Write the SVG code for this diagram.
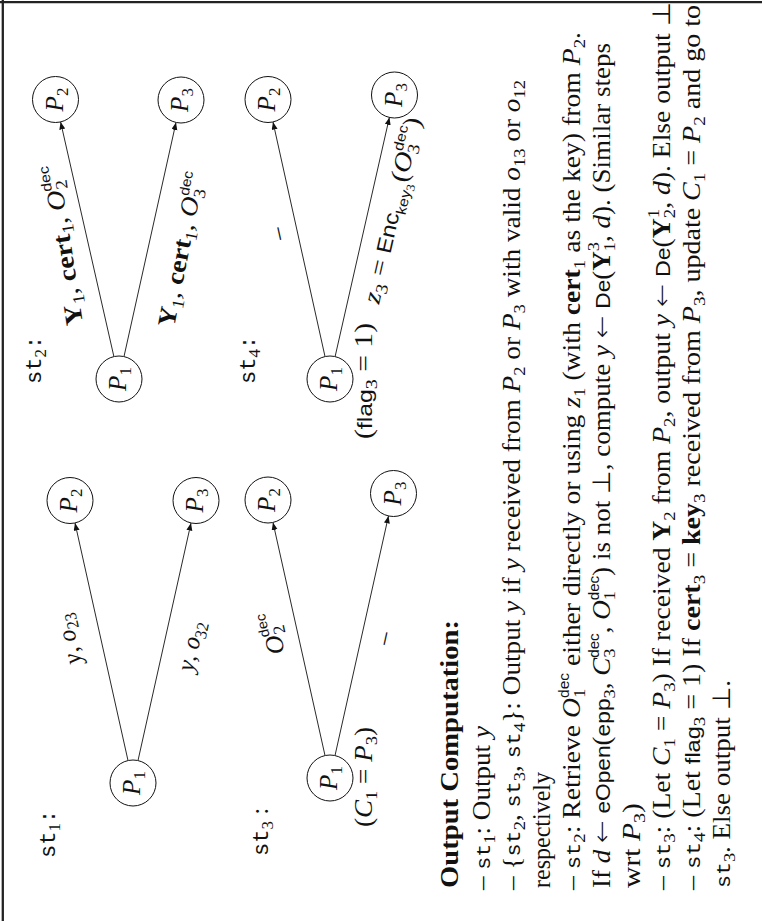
<svg xmlns="http://www.w3.org/2000/svg" width="762" height="921" viewBox="0 0 762 921">
<style>
text{font-family:"Liberation Serif",serif;font-size:25px;fill:#111}
.i{font-style:italic}
.b{font-weight:bold}
.tt{font-family:"Liberation Mono",monospace;font-size:20px}
.tl{font-family:"Liberation Mono",monospace;font-size:22px}
.sf{font-family:"Liberation Sans",sans-serif;font-size:21px}
.ar{font-family:"DejaVu Sans",sans-serif;font-size:25px;font-weight:200}
.sub{font-size:17px}
.sup{font-family:"Liberation Sans",sans-serif;font-size:14px}
.ss{font-size:12px}
.m{text-anchor:middle}
circle{fill:#fff;stroke:#111;stroke-width:1}
.edge{stroke:#111;stroke-width:0.9;fill:none;marker-end:url(#ah)}
.frame{stroke:#222;stroke-width:2.3}
</style>
<defs>
<marker id="ah" markerUnits="userSpaceOnUse" markerWidth="9" markerHeight="7" refX="7.5" refY="3" orient="auto"><path d="M0,0 L7.5,3 L0,6 Z" fill="#111"/></marker>
</defs>
<line class="frame" x1="2.8" y1="0" x2="2.8" y2="921"/>
<line class="frame" x1="0" y1="2.2" x2="762" y2="2.2"/>
<g transform="translate(0,921) rotate(-90)">
<g id="connectors">
<line class="edge" x1="160.5" y1="128" x2="398" y2="75"/>
<line class="edge" x1="160.5" y1="138" x2="398" y2="191"/>
<line class="edge" x1="165.5" y1="325" x2="398.5" y2="273"/>
<line class="edge" x1="165.4" y1="335" x2="405.1" y2="388.5"/>
<line class="edge" x1="564.4" y1="113.9" x2="799.1" y2="60.6"/>
<line class="edge" x1="564.5" y1="124" x2="798.5" y2="176"/>
<line class="edge" x1="564.5" y1="325" x2="799" y2="273"/>
<line class="edge" x1="564.4" y1="335.1" x2="803.6" y2="389.4"/>
</g>
<g id="edge-labels">
<text class="m" transform="translate(283.5,76) rotate(-12.6)" textLength="51" lengthAdjust="spacingAndGlyphs"><tspan class="i">y</tspan>, <tspan class="i">o</tspan><tspan class="sub" dy="5">23</tspan></text>
<text class="m" transform="translate(273.5,198.5) rotate(12.6)" textLength="51" lengthAdjust="spacingAndGlyphs"><tspan class="i">y</tspan>, <tspan class="i">o</tspan><tspan class="sub" dy="5">32</tspan></text>
<text class="m" transform="translate(289.5,280) rotate(-12.6)" textLength="43" lengthAdjust="spacingAndGlyphs"><tspan class="i">O</tspan><tspan class="sub" dy="5">2</tspan><tspan class="sup" dx="-8.5" dy="-16">dec</tspan></text>
<text class="m" transform="translate(281,391) rotate(12.6)">–</text>
<text class="m" transform="translate(677,71) rotate(-8.5)" textLength="162" lengthAdjust="spacingAndGlyphs"><tspan class="b">Y</tspan><tspan class="sub" dy="5">1</tspan><tspan dy="-5">, </tspan><tspan class="b">cert</tspan><tspan class="sub" dy="5">1</tspan><tspan dy="-5">, </tspan><tspan class="i">O</tspan><tspan class="sub" dy="5">2</tspan><tspan class="sup" dx="-8.5" dy="-16">dec</tspan></text>
<text class="m" transform="translate(670,189) rotate(11)" textLength="157" lengthAdjust="spacingAndGlyphs"><tspan class="b">Y</tspan><tspan class="sub" dy="5">1</tspan><tspan dy="-5">, </tspan><tspan class="b">cert</tspan><tspan class="sub" dy="5">1</tspan><tspan dy="-5">, </tspan><tspan class="i">O</tspan><tspan class="sub" dy="5">3</tspan><tspan class="sup" dx="-8.5" dy="-16">dec</tspan></text>
<text class="m" transform="translate(688.5,285) rotate(-12.5)">–</text>
<text class="m" transform="translate(709,400) rotate(12.8)" textLength="190" lengthAdjust="spacingAndGlyphs"><tspan class="i">z</tspan><tspan class="sub" dy="5">3</tspan><tspan dy="-5"> = </tspan><tspan class="sf">Enc</tspan><tspan class="sup" dy="6">key</tspan><tspan class="ss" dy="3">3</tspan><tspan dy="-9">(</tspan><tspan class="i">O</tspan><tspan class="sub" dy="5">3</tspan><tspan class="sup" dx="-8.5" dy="-16">dec</tspan><tspan dy="11">)</tspan></text>
</g>
<g id="st1-label"><text x="63" y="55"><tspan class="tl">st</tspan><tspan class="sub" dy="5">1</tspan><tspan class="tl" dy="-5">:</tspan></text></g>
<g id="st1-P1"><circle cx="138" cy="133" r="23"/><text class="m" x="138" y="140"><tspan class="i">P</tspan><tspan class="sub" dy="5">1</tspan></text></g>
<g id="st1-P2"><circle cx="420.5" cy="70" r="23"/><text class="m" x="420.5" y="77"><tspan class="i">P</tspan><tspan class="sub" dy="5">2</tspan></text></g>
<g id="st1-P3"><circle cx="420.5" cy="196" r="23"/><text class="m" x="420.5" y="203"><tspan class="i">P</tspan><tspan class="sub" dy="5">3</tspan></text></g>
<g id="st3-label"><text x="65" y="268"><tspan class="tl">st</tspan><tspan class="sub" dy="5">3</tspan><tspan dy="-5"> :</tspan></text></g>
<g id="st3-P1"><circle cx="143" cy="330" r="23"/><text class="m" x="143" y="337"><tspan class="i">P</tspan><tspan class="sub" dy="5">1</tspan></text><text class="m" x="144" y="372" textLength="100" lengthAdjust="spacingAndGlyphs">(<tspan class="i">C</tspan><tspan class="sub" dy="5">1</tspan><tspan dy="-5"> = </tspan><tspan class="i">P</tspan><tspan class="sub" dy="5">3</tspan><tspan dy="-5">)</tspan></text></g>
<g id="st3-P2"><circle cx="421" cy="268" r="23"/><text class="m" x="421" y="275"><tspan class="i">P</tspan><tspan class="sub" dy="5">2</tspan></text></g>
<g id="st3-P3"><circle cx="427.5" cy="393.5" r="23"/><text class="m" x="427.5" y="400.5"><tspan class="i">P</tspan><tspan class="sub" dy="5">3</tspan></text></g>
<g id="st2-label"><text x="537" y="41"><tspan class="tl">st</tspan><tspan class="sub" dy="5">2</tspan><tspan class="tl" dy="-5">:</tspan></text></g>
<g id="st2-P1"><circle cx="542" cy="119" r="23"/><text class="m" x="542" y="126"><tspan class="i">P</tspan><tspan class="sub" dy="5">1</tspan></text></g>
<g id="st2-P2"><circle cx="821.5" cy="55.5" r="23"/><text class="m" x="821.5" y="62.5"><tspan class="i">P</tspan><tspan class="sub" dy="5">2</tspan></text></g>
<g id="st2-P3"><circle cx="821" cy="181" r="23"/><text class="m" x="821" y="188"><tspan class="i">P</tspan><tspan class="sub" dy="5">3</tspan></text></g>
<g id="st4-label"><text x="537" y="255"><tspan class="tl">st</tspan><tspan class="sub" dy="5">4</tspan><tspan class="tl" dy="-5">:</tspan></text></g>
<g id="st4-P1"><circle cx="542" cy="330" r="23"/><text class="m" x="542" y="337"><tspan class="i">P</tspan><tspan class="sub" dy="5">1</tspan></text><text class="m" x="540" y="372" textLength="116" lengthAdjust="spacingAndGlyphs">(<tspan class="sf">flag</tspan><tspan class="sub" dy="5">3</tspan><tspan dy="-5"> = 1)</tspan></text></g>
<g id="st4-P2"><circle cx="821.5" cy="268" r="23"/><text class="m" x="821.5" y="275"><tspan class="i">P</tspan><tspan class="sub" dy="5">2</tspan></text></g>
<g id="st4-P3"><circle cx="826" cy="394.5" r="23"/><text class="m" x="826" y="401.5"><tspan class="i">P</tspan><tspan class="sub" dy="5">3</tspan></text></g>
<g id="output-computation">
<text class="b" x="33" y="458" textLength="268" lengthAdjust="spacingAndGlyphs">Output Computation:</text>
<text x="31" y="490" textLength="164" lengthAdjust="spacingAndGlyphs">– <tspan class="tt">st</tspan><tspan class="sub" dy="5">1</tspan><tspan dy="-5">: Output </tspan><tspan class="i">y</tspan></text>
<text x="31" y="520" textLength="810" lengthAdjust="spacingAndGlyphs">– {<tspan class="tt">st</tspan><tspan class="sub" dy="5">2</tspan><tspan dy="-5">, </tspan><tspan class="tt">st</tspan><tspan class="sub" dy="5">3</tspan><tspan dy="-5">, </tspan><tspan class="tt">st</tspan><tspan class="sub" dy="5">4</tspan><tspan dy="-5">}: Output </tspan><tspan class="i">y</tspan> if <tspan class="i">y</tspan> received from <tspan class="i">P</tspan><tspan class="sub" dy="5">2</tspan><tspan dy="-5"> or </tspan><tspan class="i">P</tspan><tspan class="sub" dy="5">3</tspan><tspan dy="-5"> with valid </tspan><tspan class="i">o</tspan><tspan class="sub" dy="5">13</tspan><tspan dy="-5"> or </tspan><tspan class="i">o</tspan><tspan class="sub" dy="5">12</tspan></text>
<text x="33" y="550" textLength="116" lengthAdjust="spacingAndGlyphs">respectively</text>
<text x="31" y="580" textLength="858" lengthAdjust="spacingAndGlyphs">– <tspan class="tt">st</tspan><tspan class="sub" dy="5">2</tspan><tspan dy="-5">: Retrieve </tspan><tspan class="i">O</tspan><tspan class="sub" dy="5">1</tspan><tspan class="sup" dx="-8.5" dy="-16">dec</tspan><tspan dy="11"> either directly or using </tspan><tspan class="i">z</tspan><tspan class="sub" dy="5">1</tspan><tspan dy="-5"> (with </tspan><tspan class="b">cert</tspan><tspan class="sub" dy="5">1</tspan><tspan dy="-5"> as the key) from </tspan><tspan class="i">P</tspan><tspan class="sub" dy="5">2</tspan><tspan dy="-5">.</tspan></text>
<text x="33" y="610" textLength="845" lengthAdjust="spacingAndGlyphs">If <tspan class="i">d</tspan> <tspan class="ar">←</tspan> <tspan class="sf">eOpen</tspan>(<tspan class="sf">epp</tspan><tspan class="sub" dy="5">3</tspan><tspan dy="-5">, </tspan><tspan class="i">C</tspan><tspan class="sub" dy="5">3</tspan><tspan class="sup" dx="-8.5" dy="-16">dec</tspan><tspan dy="11">, </tspan><tspan class="i">O</tspan><tspan class="sub" dy="5">1</tspan><tspan class="sup" dx="-8.5" dy="-16">dec</tspan><tspan dy="11">) is not ⊥, compute </tspan><tspan class="i">y</tspan> <tspan class="ar">←</tspan> <tspan class="sf">De</tspan>(<tspan class="b">Y</tspan><tspan class="sub" dy="5">1</tspan><tspan class="sub" dx="-8.5" dy="-16">3</tspan><tspan dy="11">, </tspan><tspan class="i">d</tspan>). (Similar steps</text>
<text x="33" y="640" textLength="85" lengthAdjust="spacingAndGlyphs">wrt <tspan class="i">P</tspan><tspan class="sub" dy="5">3</tspan><tspan dy="-5">)</tspan></text>
<text x="31" y="670" textLength="888" lengthAdjust="spacingAndGlyphs">– <tspan class="tt">st</tspan><tspan class="sub" dy="5">3</tspan><tspan dy="-5">: (Let </tspan><tspan class="i">C</tspan><tspan class="sub" dy="5">1</tspan><tspan dy="-5"> = </tspan><tspan class="i">P</tspan><tspan class="sub" dy="5">3</tspan><tspan dy="-5">) If received </tspan><tspan class="b">Y</tspan><tspan class="sub" dy="5">2</tspan><tspan dy="-5"> from </tspan><tspan class="i">P</tspan><tspan class="sub" dy="5">2</tspan><tspan dy="-5">, output </tspan><tspan class="i">y</tspan> <tspan class="ar">←</tspan> <tspan class="sf">De</tspan>(<tspan class="b">Y</tspan><tspan class="sub" dy="5">2</tspan><tspan class="sub" dx="-8.5" dy="-16">1</tspan><tspan dy="11">, </tspan><tspan class="i">d</tspan>). Else output ⊥</text>
<text x="31" y="700" textLength="885" lengthAdjust="spacingAndGlyphs">– <tspan class="tt">st</tspan><tspan class="sub" dy="5">4</tspan><tspan dy="-5">: (Let </tspan><tspan class="sf">flag</tspan><tspan class="sub" dy="5">3</tspan><tspan dy="-5"> = 1) If </tspan><tspan class="b">cert</tspan><tspan class="sub" dy="5">3</tspan><tspan dy="-5"> = </tspan><tspan class="b">key</tspan><tspan class="sub" dy="5">3</tspan><tspan dy="-5"> received from </tspan><tspan class="i">P</tspan><tspan class="sub" dy="5">3</tspan><tspan dy="-5">, update </tspan><tspan class="i">C</tspan><tspan class="sub" dy="5">1</tspan><tspan dy="-5"> = </tspan><tspan class="i">P</tspan><tspan class="sub" dy="5">2</tspan><tspan dy="-5"> and go to</tspan></text>
<text x="33" y="730" textLength="208" lengthAdjust="spacingAndGlyphs"><tspan class="tt">st</tspan><tspan class="sub" dy="5">3</tspan><tspan dy="-5">. Else output ⊥.</tspan></text>
</g>
</g>
</svg>
